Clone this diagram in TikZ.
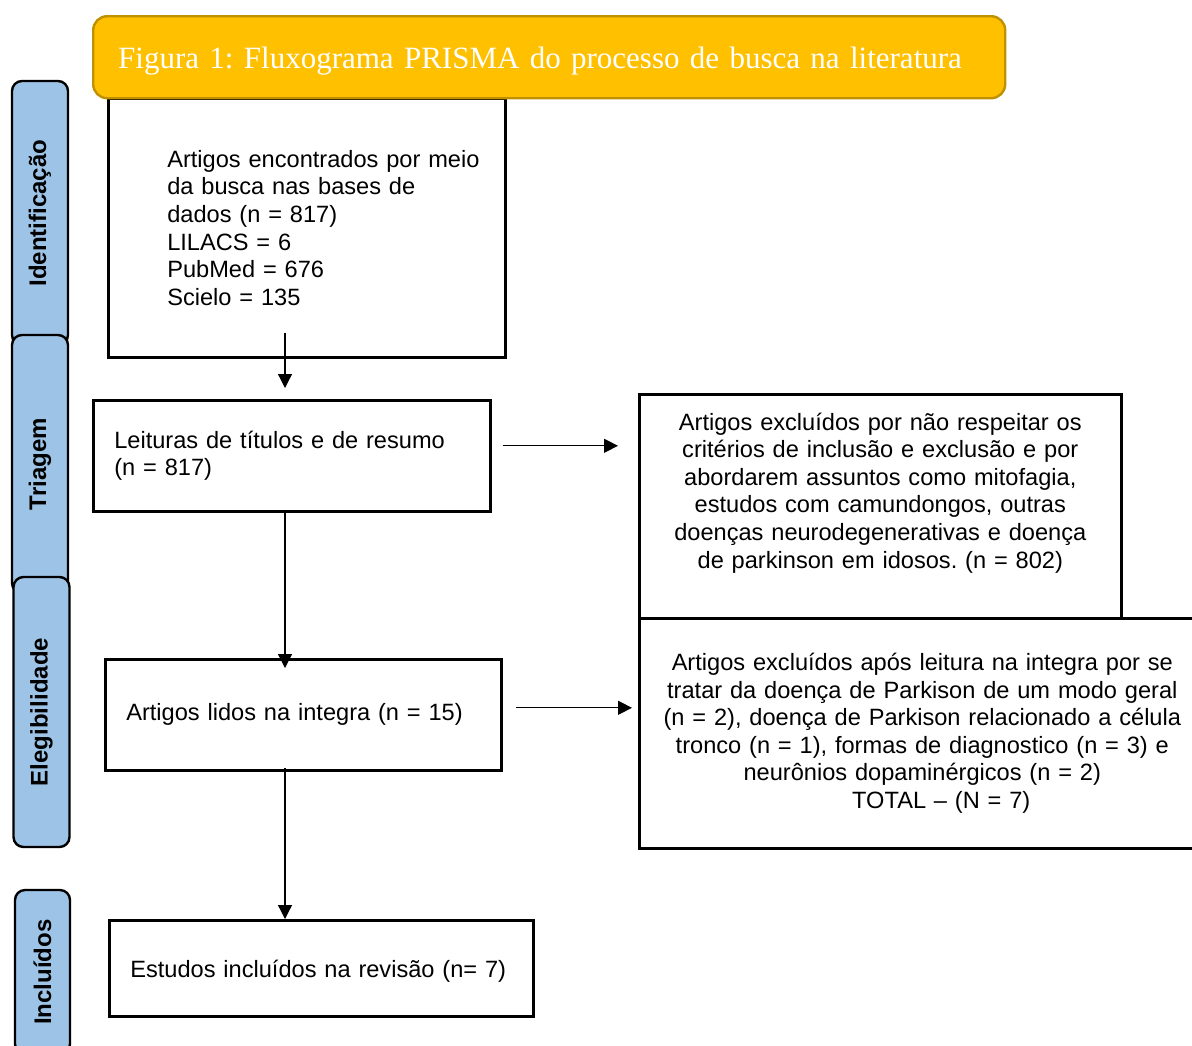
\documentclass[tikz,border=0pt]{standalone}
\usepackage{fontspec}
\setmainfont{Liberation Sans}
\newfontfamily\titlefont{Liberation Serif}
\usepackage{tikz}
\usetikzlibrary{arrows.meta, calc}
\frenchspacing

\definecolor{gold}{HTML}{FFC000}
\definecolor{golddark}{HTML}{BF9000}
\definecolor{tabblue}{HTML}{9DC3E6}

\begin{document}
\begin{tikzpicture}[x=0.5pt, y=-0.5pt,
  box/.style={draw, line width=1.3pt, anchor=north west, inner xsep=4pt, font=\fontsize{11.8}{13.8}\selectfont},
  lbox/.style={box, align=left, execute at begin node={\leftskip=#1}},
  cbox/.style={box, align=center},
  tab/.style={draw, line width=1.2pt, fill=tabblue, rounded corners=5pt, rotate=90, minimum height=28pt, font=\bfseries\fontsize{12}{14}\selectfont},
  arr/.style={line width=0.6pt, -{Triangle[length=7pt, width=7pt]}}]
\useasboundingbox (0,0) rectangle (1192,1045);
\clip (0,0) rectangle (1192,1045);

\node[lbox=25.5pt, minimum width=198.5pt, minimum height=129.5pt, text width=190.5pt] (busca) at (107,97)
  {Artigos encontrados por meio\\ da busca nas bases de\\ dados (n = 817)\\ LILACS = 6\\ PubMed = 676\\ Scielo = 135};
\node[draw=golddark, line width=1.2pt, fill=gold, rounded corners=7pt, anchor=north west, minimum width=456pt, minimum height=41pt, text width=448pt, inner xsep=4pt, align=left, execute at begin node={\leftskip=8.5pt}, text=white, font=\titlefont\fontsize{15.5}{18}\selectfont] (titulo) at (92,15)
  {\raisebox{-1.8pt}[\height][\depth]{Figura 1: Fluxograma PRISMA do processo de busca na literatura}};

\node[tab, minimum width=132pt] (ident) at (40,213) {Identificação};
\node[tab, minimum width=129pt] (triag) at (40,464) {Triagem};
\node[tab, minimum width=135pt] (eleg) at (41.5,712) {Elegibilidade};
\node[tab, minimum width=82pt, minimum height=27.5pt] (incl) at (42.5,972) {Incluídos};

\node[lbox=6.5pt, minimum width=198.5pt, minimum height=55.5pt, text width=190.5pt] (leitura) at (92,399)
  {Leituras de títulos e de resumo\\ (n = 817)};
\node[cbox, minimum width=241pt, minimum height=112pt, text width=233pt] (excl1) at (638,393)
  {Artigos excluídos por não respeitar os\\ critérios de inclusão e exclusão e por\\ abordarem assuntos como mitofagia,\\ estudos com camundongos, outras\\ doenças neurodegenerativas e doença\\ de parkinson em idosos. (n = 802)\\[2pt]\mbox{}};
\node[cbox, minimum width=283pt, minimum height=115pt, text width=275pt] (excl2) at (638,617)
  {Artigos excluídos após leitura na integra por se\\ tratar da doença de Parkison de um modo geral\\ (n = 2), doença de Parkison relacionado a célula\\ tronco (n = 1), formas de diagnostico (n = 3) e\\ neurônios dopaminérgicos (n = 2)\\ \hspace*{19pt}TOTAL -- (N = 7)};
\node[lbox=6.5pt, minimum width=198pt, minimum height=55.5pt, text width=190pt] (lidos) at (104,658)
  {Artigos lidos na integra (n = 15)};
\node[lbox=6.5pt, minimum width=212pt, minimum height=48pt, text width=204pt] (incluidos) at (108,919)
  {\raisebox{-1.5pt}[\height][\depth]{Estudos incluídos na revisão (n= 7)}};

\coordinate (spine) at (285,0);
\draw[arr, shorten <=-13pt, shorten >=5.5pt] (busca.south -| spine) -- (leitura.north -| spine);
\draw[arr, shorten >=-5pt] (leitura.south -| spine) -- (lidos.north -| spine);
\draw[arr, shorten <=-2pt] (lidos.south -| spine) -- (incluidos.north -| spine);
\draw[arr, shorten <=5.5pt, shorten >=10pt] ([yshift=5pt]leitura.east) -- ([yshift=5pt]leitura.east -| excl1.west);
\draw[arr, shorten <=6.5pt, shorten >=3pt] ([yshift=3.5pt]lidos.east) -- ([yshift=3.5pt]lidos.east -| excl2.west);
\end{tikzpicture}
\end{document}
